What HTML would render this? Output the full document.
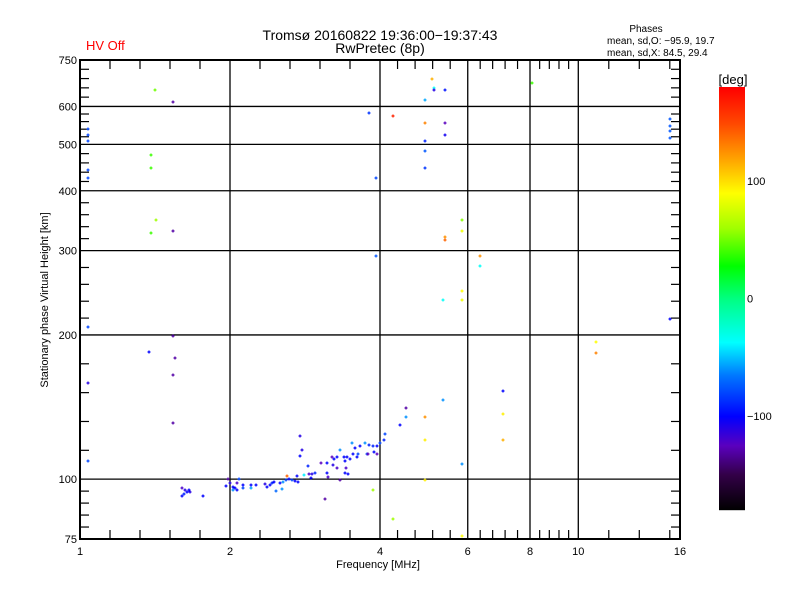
<!DOCTYPE html>
<html><head><meta charset="utf-8">
<style>
html,body{margin:0;padding:0;background:#fff;}
svg{display:block;font-family:"Liberation Sans","DejaVu Sans",sans-serif;}
</style></head>
<body>
<svg id="chart" width="800" height="600" viewBox="0 0 800 600" xmlns="http://www.w3.org/2000/svg">
<rect width="800" height="600" fill="#fff"/>
<text x="380" y="40" font-size="14" text-anchor="middle">Tromsø 20160822 19:36:00−19:37:43</text>
<text x="380" y="53" font-size="14" text-anchor="middle">RwPretec (8p)</text>
<text x="86" y="50" font-size="13" fill="#ff0000">HV Off</text>
<text x="646" y="32" font-size="10" text-anchor="middle">Phases</text>
<text x="607" y="44" font-size="10">mean, sd,O: −95.9, 19.7</text>
<text x="607" y="56" font-size="10">mean, sd,X:  84.5, 29.4</text>
<text x="378" y="568" font-size="11" text-anchor="middle">Frequency [MHz]</text>
<text transform="translate(48,300) rotate(-90)" font-size="11" text-anchor="middle">Stationary phase Virtual Height [km]</text>
<text x="733" y="84" font-size="13" text-anchor="middle">[deg]</text>
<g id="grid"></g>
<g id="pts"></g>
<g id="cbar"></g>
<rect x="80" y="60" width="600" height="479" fill="none" stroke="#000" stroke-width="2"/>
</svg>
<script>
const freqs=[1.038,1.038,1.038,1.038,1.038,1.414,1.537,1.388,1.388,1.421,1.388,1.537,1.038,1.537,1.376,1.551,1.537,1.04,1.537,1.038,
1.602,1.625,1.639,1.655,1.617,1.663,1.602,1.765,1.982,1.963,2.0,2.028,2.047,2.066,2.028,2.085,2.066,2.124,2.124,2.204,
2.204,2.255,2.351,2.373,2.406,2.428,2.474,2.451,2.52,2.543,2.555,2.591,2.603,2.627,2.664,2.701,2.726,2.739,2.764,2.79,
2.764,2.815,2.868,2.881,2.921,2.962,2.908,3.102,3.045,3.131,3.131,3.145,3.204,3.234,3.219,3.279,3.279,3.325,3.325,3.387,
3.402,3.418,3.402,3.449,3.434,3.482,3.514,3.531,3.564,3.597,3.614,3.648,3.732,3.767,3.802,3.784,3.873,3.891,3.945,4.0,
4.075,4.093,3.945,4.248,3.873,4.387,4.51,4.51,10.85,10.85,7.06,7.06,7.06,5.352,4.925,4.925,4.925,5.843,5.843,5.087,
5.134,5.134,5.402,4.925,3.802,4.248,4.925,5.402,5.402,4.925,4.925,4.925,3.927,8.07,5.843,5.843,5.402,5.402,3.927,6.35,
6.35,5.843,5.843,5.352,15.28,15.28,15.28,15.28,15.28];
const heights=[539,524,507,443,425,650,614,476,446,348,327,330,208,199,184,179,165,159,131,109,
95.8,94.9,94.0,94.9,93.1,94.0,92.2,92.2,100,96.7,98.2,96.2,95.8,94.9,94.9,100,98.2,97.2,95.8,97.2,
95.8,97.2,97.7,96.2,97.2,98.2,94.4,98.6,98.2,95.3,98.6,99.5,101.5,100,99.5,99,101.5,98.6,123,115,
112,102,106.5,102.5,102.5,103,100.5,90.8,108,108,103,101,111,110,107,111,105.6,115,99.5,111,
109,105.6,103,102.5,111,110,119,113,116,111,113,117,119,113,118,113,117,114,113,119,
121,124,117,82.5,94.9,130,135,141,193,183,153,137,121,146,135,121,99.5,107.5,76,683,
657,650,648,620,580,572,555,555,524,509,485,446,425,673,348,329,321,315,292,292,
278,247,237,237,566,545,532,516,216];
const phases=[-80,-80,-80,-80,-80,50,-130,40,40,60,40,-130,-80,-130,-100,-130,-130,-110,-130,-80,
-120,-110,-100,-100,-90,-110,-100,-100,-130,-100,-110,-100,-100,-100,-60,-80,-120,-100,-80,-100,
-55,-100,-110,-100,-100,-90,-70,-100,-100,-60,-60,-80,140,-100,-80,-100,-100,-100,-110,-110,
-100,-40,-90,-120,-110,-90,-100,-130,-125,-100,-100,-120,-125,-100,-110,-100,-120,-60,-130,-100,
-100,-120,-100,-100,-100,-100,-60,-100,-100,-100,-80,-100,-60,-80,-90,-125,-90,-100,-125,-80,
-90,-80,-100,60,60,-100,-60,-130,90,130,-100,95,115,-60,125,95,95,-60,90,115,
-35,-110,-95,-55,-85,165,130,-125,-105,-90,-75,-85,-80,40,55,85,125,140,-75,125,
-35,90,85,-35,-75,-75,-75,-75,-100];
const xTickLabels=[1,2,4,6,8,10,16];
const yTickLabels=[75,100,200,300,400,500,600,750];
const cbarTicks=[100,0,-100];

const NS="http://www.w3.org/2000/svg";
const X0=80,X1=680,Y0=539,Y1=60;
function xs(f){return X0+150*Math.log2(f);}
function ys(h){return Y0-(Y0-Y1)*Math.log10(h/75);}
function mk(tag,attrs,parent){const e=document.createElementNS(NS,tag);for(const k in attrs)e.setAttribute(k,attrs[k]);parent.appendChild(e);return e;}
const stops=[[-180,0,0,0],[-150,50,0,70],[-125,90,0,190],[-100,0,0,255],[-65,0,120,255],[-37,0,255,255],[0,0,255,130],[28,0,255,0],[60,160,255,0],[90,255,255,0],[120,255,160,0],[150,255,70,0],[180,255,0,0]];
function cmap(v){v=Math.max(-180,Math.min(180,v));for(let i=1;i<stops.length;i++){if(v<=stops[i][0]){const a=stops[i-1],b=stops[i],t=(v-a[0])/(b[0]-a[0]);return `rgb(${Math.round(a[1]+t*(b[1]-a[1]))},${Math.round(a[2]+t*(b[2]-a[2]))},${Math.round(a[3]+t*(b[3]-a[3]))})`;}}return 'rgb(255,0,0)';}

const grid=document.getElementById('grid');
// x grid + labels + minor ticks
xTickLabels.forEach((v,i)=>{
  const x=xs(v);
  if(i>0&&i<xTickLabels.length-1){const l=mk('line',{x1:x,x2:x,y1:Y1,y2:Y0,stroke:'#000','stroke-width':1.3},grid);
  
  }
  const t=mk('text',{x:x,y:Y0+16,'font-size':11,'text-anchor':'middle'},grid);t.textContent=v;
  
  
  if(i<xTickLabels.length-1){
    const x2=xs(xTickLabels[i+1]);const n=(v===10)?[30.5,61,91.5]:[0.2,0.4,0.6,0.8].map(k=>k*(x2-x));
    n.forEach(d=>{[[Y1,Y1+9],[Y0-9,Y0]].forEach(yy=>{const tk=mk('line',{x1:x+d,x2:x+d,y1:yy[0],y2:yy[1],stroke:'#000','stroke-width':1.2},grid);
    
    });});
  }
});
yTickLabels.forEach((v,i)=>{
  const y=ys(v);
  if(i>0&&i<yTickLabels.length-1){const l=mk('line',{x1:X0,x2:X1,y1:y,y2:y,stroke:'#000','stroke-width':1.3},grid);
  
  }
  const t=mk('text',{x:X0-3,y:y+4,'font-size':11,'text-anchor':'end'},grid);t.textContent=v;
  
  
  if(i<yTickLabels.length-1){const y2=ys(yTickLabels[i+1]);
    [0.2,0.4,0.6,0.8].forEach(k=>{const yy=y+k*(y2-y);[[X0,X0+9],[X1-9,X1]].forEach(xx=>{const tk=mk('line',{x1:xx[0],x2:xx[1],y1:yy,y2:yy,stroke:'#000','stroke-width':1.2},grid);
    
    });});}
});
// points
const pts=document.getElementById('pts');
for(let i=0;i<freqs.length;i++){
  const x=Math.round(xs(freqs[i])),y=Math.round(ys(heights[i])),c=cmap(phases[i]);
  const p=mk('path',{d:`M${x-1.5} ${y}h3M${x} ${y-1.5}v3`,stroke:c,'stroke-width':1.2,fill:'none'},pts);
  
  
}
// colorbar
const cb=document.getElementById('cbar');
const CT=87,CB=510,CX=719,CW=26;
for(let y=CT;y<CB;y++){const v=180-360*(y-CT)/(CB-CT);
  const r=mk('rect',{x:CX,y:y,width:CW,height:1.2,fill:cmap(v)},cb);
  
  }
cbarTicks.forEach(v=>{const y=CT+(180-v)/360*(CB-CT);
  const t=mk('text',{x:CX+CW+2,y:y+4,'font-size':11},cb);t.textContent=(v<0?'−':'')+Math.abs(v);
  
  });
</script>
</body></html>
